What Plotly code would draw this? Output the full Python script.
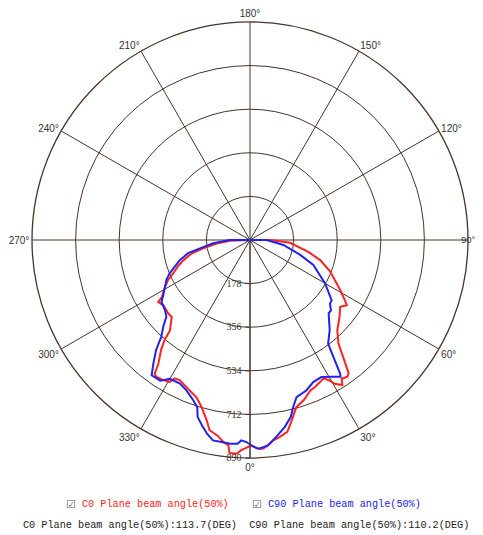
import plotly.graph_objects as go

# ---- data ----
c0_theta = [-90, -88, -84, -80, -77, -73, -70, -66.5, -64, -61, -57, -56, -53, -48, -45.5, -41.5, -40.5, -39,
            -36.5, -35.5, -34.5, -32, -29.5, -28.5, -26.5, -25, -22, -19, -17, -15.5, -13.5, -12, -9.5, -7.5,
            -6, -5.5, -3.5, -2.5, -0.5, 0.5, 2, 3.5, 5, 6.5, 8.5, 11, 12.5, 15.5, 18.5, 22, 24, 28, 29.5, 30.5,
            32.5, 33.5, 35.5, 36.5, 38.5, 40.5, 44, 49.5, 53.5, 56, 57.5, 61, 68.5, 74, 78.5, 86, 90, 90]
c0_r = [0, 82, 137, 194, 245, 285, 313, 342, 372, 397, 429, 452, 443, 449, 448, 493, 537, 577,
        629, 670, 677, 673, 666, 643, 640, 647, 661, 677, 699, 721, 757, 794, 809, 832,
        843, 874, 874, 860, 845, 838, 852, 854, 842, 824, 814, 798, 767, 708, 690, 661, 656, 640, 659, 681,
        702, 679, 685, 677, 611, 556, 513, 481, 458, 477, 460, 421, 352, 298, 243, 164, 82, 0]

c90_theta = [-90, -90, -85, -80.5, -78, -74, -70.5, -67.5, -64.5, -61, -57, -55, -50.5, -47.5, -45, -42.5,
             -40.5, -38, -36, -32.5, -30, -26, -23, -19.5, -17.5, -16.5, -14.5, -12.5, -10.5, -8, -5.5, -3.5,
             -2.5, -1, 1, 2.5, 5, 7.5, 10.5, 13, 14.5, 16.5, 20.5, 24, 27.5, 31, 33.5, 34, 35.5, 37, 41.5, 47,
             49, 51.5, 53.5, 60, 68.5, 73.5, 81.5, 90, 90]
c90_r = [0, 82, 151, 207, 258, 298, 326, 355, 378, 397, 424, 441, 450, 463, 501, 536,
         590, 641, 683, 681, 654, 652, 666, 694, 716, 753, 782, 810, 832, 833, 836, 833,
         819, 825, 845, 853, 842, 812, 777, 741, 704, 669, 656, 635, 631, 651, 670, 658, 586, 530, 491, 439,
         438, 417, 415, 354, 278, 214, 138, 68, 0]

radial_ticks = [178, 356, 534, 712, 890]
angle_ticks = [0, 30, 60, 90, 120, 150, 180, 210, 240, 270, 300, 330]
angle_labels = [f"{a}°" for a in angle_ticks]

c0_name = "C0 Plane beam angle(50%)"
c90_name = "C90 Plane beam angle(50%)"
c0_beam = 113.7
c90_beam = 110.2

RED = "#ff2222"
BLUE = "#2222ee"
GRID = "#4a3328"

OFF = 8                    # page body keeps an 8px margin inside the 483x535 window
W, H = 483 - OFF, 535 - OFF

fig = go.Figure()
fig.add_trace(go.Scatterpolar(theta=c0_theta, r=c0_r, mode="lines", name=c0_name,
                              line=dict(color=RED, width=2)))
fig.add_trace(go.Scatterpolar(theta=c90_theta, r=c90_r, mode="lines", name=c90_name,
                              line=dict(color=BLUE, width=2)))

# the 90° label sits at the very edge of the page; draw it as an annotation so it stays whole
shown_labels = ["" if a == 90 else t for a, t in zip(angle_ticks, angle_labels)]

cx, cy, R = 250 - OFF, 240 - OFF, 218
fig.update_layout(
    width=W, height=H,
    margin=dict(l=0, r=0, t=0, b=0),
    paper_bgcolor="white",
    showlegend=False,
    polar=dict(
        domain=dict(x=[(cx - R) / W, (cx + R) / W], y=[1 - (cy + R) / H, 1 - (cy - R) / H]),
        bgcolor="white",
        angularaxis=dict(
            rotation=270, direction="counterclockwise",
            tickmode="array", tickvals=angle_ticks, ticktext=shown_labels,
            showgrid=True, gridcolor=GRID, gridwidth=1,
            showline=True, linecolor=GRID, linewidth=1.3,
            ticks="", tickfont=dict(family="Liberation Sans", size=10, color="#333333"),
        ),
        radialaxis=dict(
            range=[0, 890], tickmode="array", tickvals=radial_ticks,
            ticktext=[str(v) for v in radial_ticks],
            angle=270, tickangle=-90, side="clockwise",
            showgrid=True, gridcolor=GRID, gridwidth=1,
            showline=True, linecolor=GRID, linewidth=1,
            ticks="outside", ticklen=4, tickcolor=GRID,
            tickfont=dict(family="Liberation Serif", size=10, color="#333333"),
        ),
    ),
)

FONT = dict(family="Liberation Mono", size=10.2)
ann = [
    dict(x=478, y=240, text=angle_labels[angle_ticks.index(90)], xanchor="right",
         font=dict(family="Liberation Sans", size=9.5, color="#333333")),
    dict(x=71, y=504, text="☑", font=dict(family="DejaVu Sans", size=11, color="#666666")),
    dict(x=80, y=504, text=c0_name, xanchor="left", font=dict(color=RED, **FONT)),
    dict(x=257, y=504, text="☑", font=dict(family="DejaVu Sans", size=11, color="#666666")),
    dict(x=266, y=504, text=c90_name, xanchor="left", font=dict(color=BLUE, **FONT)),
    dict(x=246, y=525,
         text=f"{c0_name}:{c0_beam}(DEG)  {c90_name}:{c90_beam}(DEG)",
         font=dict(color="#222222", **FONT)),
]
for a in ann:
    a.setdefault("xanchor", "center")
    fig.add_annotation(x=(a["x"] - OFF) / W, y=1 - (a["y"] - OFF) / H, xref="paper", yref="paper",
                       text=a["text"], showarrow=False, xanchor=a["xanchor"], yanchor="middle",
                       font=a["font"])

fig.write_html("out.html")
